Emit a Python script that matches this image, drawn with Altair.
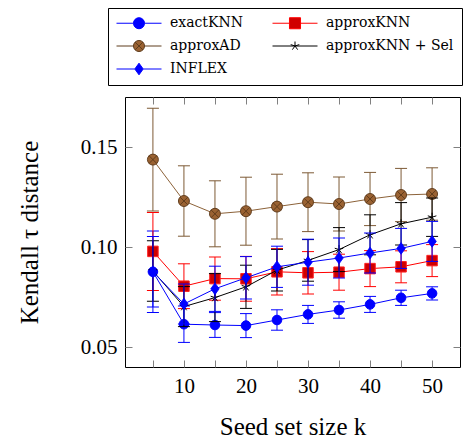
import altair as alt
import pandas as pd

# ---------------- data ----------------
k = [5, 10, 15, 20, 25, 30, 35, 40, 45, 50]
series_names = ["exactKNN", "approxKNN", "approxAD", "approxKNN + Sel", "INFLEX"]

exact_mean = [0.0876, 0.0614, 0.0610, 0.0607, 0.0635, 0.0663, 0.0685, 0.0713, 0.0746, 0.0768]
exact_err = [0.0204, 0.0091, 0.0062, 0.0060, 0.0051, 0.0045, 0.0041, 0.0040, 0.0038, 0.0033]

aknn_mean = [0.0978, 0.0804, 0.0842, 0.0841, 0.0876, 0.0871, 0.0874, 0.0892, 0.0901, 0.0932]
aknn_err = [0.0195, 0.0112, 0.0108, 0.0112, 0.0116, 0.0106, 0.0090, 0.0090, 0.0080, 0.0080]

ad_mean = [0.1437, 0.1230, 0.1166, 0.1179, 0.1202, 0.1224, 0.1215, 0.1240, 0.1260, 0.1265]
ad_err = [0.0257, 0.0176, 0.0165, 0.0170, 0.0162, 0.0147, 0.0135, 0.0133, 0.0133, 0.0131]

sel_mean = [0.0880, 0.0702, 0.0747, 0.0801, 0.0884, 0.0933, 0.0987, 0.1061, 0.1116, 0.1149]
sel_err = [0.0151, 0.0100, 0.0120, 0.0108, 0.0104, 0.0104, 0.0110, 0.0100, 0.0106, 0.0096]

inflex_mean = [0.0876, 0.0715, 0.0791, 0.0846, 0.0901, 0.0924, 0.0945, 0.0970, 0.0993, 0.1028]
inflex_err = [0.0176, 0.0100, 0.0113, 0.0106, 0.0103, 0.0115, 0.0100, 0.0100, 0.0100, 0.0100]

x_ticks = [5, 10, 15, 20, 25, 30, 35, 40, 45, 50]
y_ticks = [0.05, 0.10, 0.15]

# ---------------- styling ----------------
FONT = "Liberation Serif"
LEG_FONT = "DejaVu Serif"
TICK_COLOR = "#808080"

xs = alt.Scale(domain=[0.5, 54.5], nice=False, zero=False)
ys = alt.Scale(domain=[0.04, 0.175], nice=False, zero=False)

# marker paths (unit box [-1,1])
CIRCLE_OX = ("M-1,0A1,1,0,1,0,1,0A1,1,0,1,0,-1,0Z"
             "M-0.707,-0.707L0.707,0.707M-0.707,0.707L0.707,-0.707")
STAR = ("M0,0L0,-1M0,0L0.951,-0.309M0,0L0.588,0.809"
        "M0,0L-0.588,0.809M0,0L-0.951,-0.309")
DIAMOND = "M0,-1L0.72,0L0,1L-0.72,0Z"

# legend paths: short line + marker
L = 3.75


def seg(r):
    return f"M-{L},0L-{r},0M{r},0L{L},0"


def circ(r):
    return f"M-{r},0A{r},{r},0,1,0,{r},0A{r},{r},0,1,0,-{r},0Z"


leg_circle = seg(0.92) + circ(0.92)
leg_square = seg(0.92) + "M-0.92,-0.92L0.92,-0.92L0.92,0.92L-0.92,0.92Z"
leg_ad = seg(0.92) + circ(0.92) + "M-0.65,-0.65L0.65,0.65M-0.65,0.65L0.65,-0.65"
leg_star = (f"M-{L},0L{L},0"
            "M0,0L0,-0.75M0,0L0.713,-0.232M0,0L0.441,0.607"
            "M0,0L-0.441,0.607M0,0L-0.713,-0.232")
leg_diamond = seg(0.7) + "M0,-0.97L0.7,0L0,0.97L-0.7,0Z"

leg_fill = ["#0000ff", "#d00000", "#9a6232", "#000000", "#0000ff"]
leg_stroke = ["#0000ff", "#ff0000", "#5e3c1c", "#000000", "#0000ff"]
leg_shape = [leg_circle, leg_square, leg_ad, leg_star, leg_diamond]


def frame(mean, err, name):
    return pd.DataFrame({
        "k": k,
        "mean": mean,
        "lo": [m - e for m, e in zip(mean, err)],
        "hi": [m + e for m, e in zip(mean, err)],
        "series": name,
    })


ax_bottom = alt.Axis(
    orient="bottom", offset=-7, values=x_ticks, tickSize=7, tickColor=TICK_COLOR,
    tickWidth=1, domain=False, grid=False,
    labelExpr="datum.value % 10 == 0 ? datum.label : ''",
    labelFont=FONT, labelFontSize=21, labelColor="black", labelPadding=25,
    labelBaseline="alphabetic", labelFlush=False, labelOverlap=False,
    title="Seed set size k", titleFont=FONT, titleFontSize=25,
    titleFontWeight="normal", titleColor="black", titleBaseline="alphabetic",
    titleY=74, titleX=167.5, titleAlign="center")
ax_left = alt.Axis(
    orient="left", offset=-7, values=y_ticks, format=".2f", tickSize=7,
    tickColor=TICK_COLOR, tickWidth=1, domain=False, grid=False,
    labelFont=FONT, labelFontSize=21, labelColor="black", labelPadding=8,
    title="Kendall τ distance", titleFont=FONT, titleFontSize=25,
    titleFontWeight="normal", titleColor="black", titleAngle=270,
    titleBaseline="alphabetic", titleAlign="center", titleX=-95, titleY=135)
ax_top = alt.Axis(orient="top", offset=-7, values=x_ticks, tickSize=7,
                  tickColor=TICK_COLOR, tickWidth=1, domain=False, grid=False,
                  labels=False, title=None)
ax_right = alt.Axis(orient="right", offset=-7, values=y_ticks, tickSize=7,
                    tickColor=TICK_COLOR, tickWidth=1, domain=False, grid=False,
                    labels=False, title=None)


def series_layers(df, line_color, err_color, point_mark, x_axes=(None, None),
                  y_axes=(None, None)):
    base = alt.Chart(df)
    rule = base.mark_rule(color=err_color, strokeWidth=1).encode(
        x=alt.X("k:Q", scale=xs, axis=x_axes[0]),
        y=alt.Y("lo:Q", scale=ys, axis=y_axes[0]),
        y2="hi:Q")
    cap_lo = base.mark_tick(color=err_color, orient="horizontal", size=12,
                            thickness=1, opacity=1).encode(
        x=alt.X("k:Q", scale=xs, axis=None), y=alt.Y("lo:Q", scale=ys, axis=None))
    cap_hi = base.mark_tick(color=err_color, orient="horizontal", size=12,
                            thickness=1, opacity=1).encode(
        x=alt.X("k:Q", scale=xs, axis=None), y=alt.Y("hi:Q", scale=ys, axis=None))
    line = base.mark_line(color=line_color, strokeWidth=1).encode(
        x=alt.X("k:Q", scale=xs, axis=x_axes[1]),
        y=alt.Y("mean:Q", scale=ys, axis=y_axes[1]))
    pts = base.mark_point(**point_mark).encode(
        x=alt.X("k:Q", scale=xs, axis=None), y=alt.Y("mean:Q", scale=ys, axis=None))
    return [rule, cap_lo, cap_hi, line, pts]


layers = []
layers += series_layers(
    frame(exact_mean, exact_err, "exactKNN"), "#0000ff", "#0000ff",
    dict(shape="circle", filled=True, size=92, fill="#0000ff", stroke="#0000ff",
         strokeWidth=1, opacity=1),
    x_axes=(ax_bottom, ax_top), y_axes=(ax_left, ax_right))
layers += series_layers(
    frame(aknn_mean, aknn_err, "approxKNN"), "#ff0000", "#ff0000",
    dict(shape="square", filled=True, size=110, fill="#d00000", stroke="#ff2020",
         strokeWidth=1, opacity=1))
layers += series_layers(
    frame(ad_mean, ad_err, "approxAD"), "#8c6239", "#7d5a35",
    dict(shape=CIRCLE_OX, filled=True, size=121, fill="#9a6232", stroke="#5a3818",
         strokeWidth=0.9, opacity=1))
layers += series_layers(
    frame(sel_mean, sel_err, "approxKNN + Sel"), "#000000", "#000000",
    dict(shape=STAR, filled=False, size=81, stroke="#000000", strokeWidth=1,
         opacity=1))
layers += series_layers(
    frame(inflex_mean, inflex_err, "INFLEX"), "#0000ff", "#0000ff",
    dict(shape=DIAMOND, filled=True, size=137, fill="#0000ff", stroke="#0000ff",
         strokeWidth=0.8, opacity=1))

# legend-only layer (no data drawn, legend built from explicit domains)
legend_df = frame(exact_mean, exact_err, "exactKNN")
legend = alt.Legend(
    orient="none", legendX=-17, legendY=-89, columns=2, direction="horizontal",
    title=None, strokeColor="black", fillColor="white", padding=8, symbolSize=144,
    symbolStrokeWidth=1, symbolOffset=16, labelOffset=24, labelFont=LEG_FONT,
    labelFontSize=14, labelColor="black", rowPadding=7, columnPadding=27,
    symbolOpacity=1, labelLimit=0, cornerRadius=0)
leg_layer = alt.Chart(legend_df).transform_filter("datum.k < 0").mark_point(
    filled=True, opacity=1).encode(
    x=alt.X("k:Q", scale=xs, axis=None),
    y=alt.Y("mean:Q", scale=ys, axis=None),
    fill=alt.Fill("series:N", scale=alt.Scale(domain=series_names, range=leg_fill),
                  legend=legend),
    stroke=alt.Stroke("series:N", scale=alt.Scale(domain=series_names, range=leg_stroke),
                      legend=legend),
    shape=alt.Shape("series:N", scale=alt.Scale(domain=series_names, range=leg_shape),
                    legend=legend),
)
layers.append(leg_layer)

chart = alt.layer(*layers).resolve_axis(x="independent", y="independent").properties(
    width=335, height=270,
    padding={"left": 117, "top": 89, "right": 5, "bottom": 72},
    autosize=alt.AutoSizeParams(type="none"),
    background="white",
).configure_view(stroke="black", strokeWidth=1)

chart.save("out.html", embed_options={"renderer": "svg", "actions": False})
